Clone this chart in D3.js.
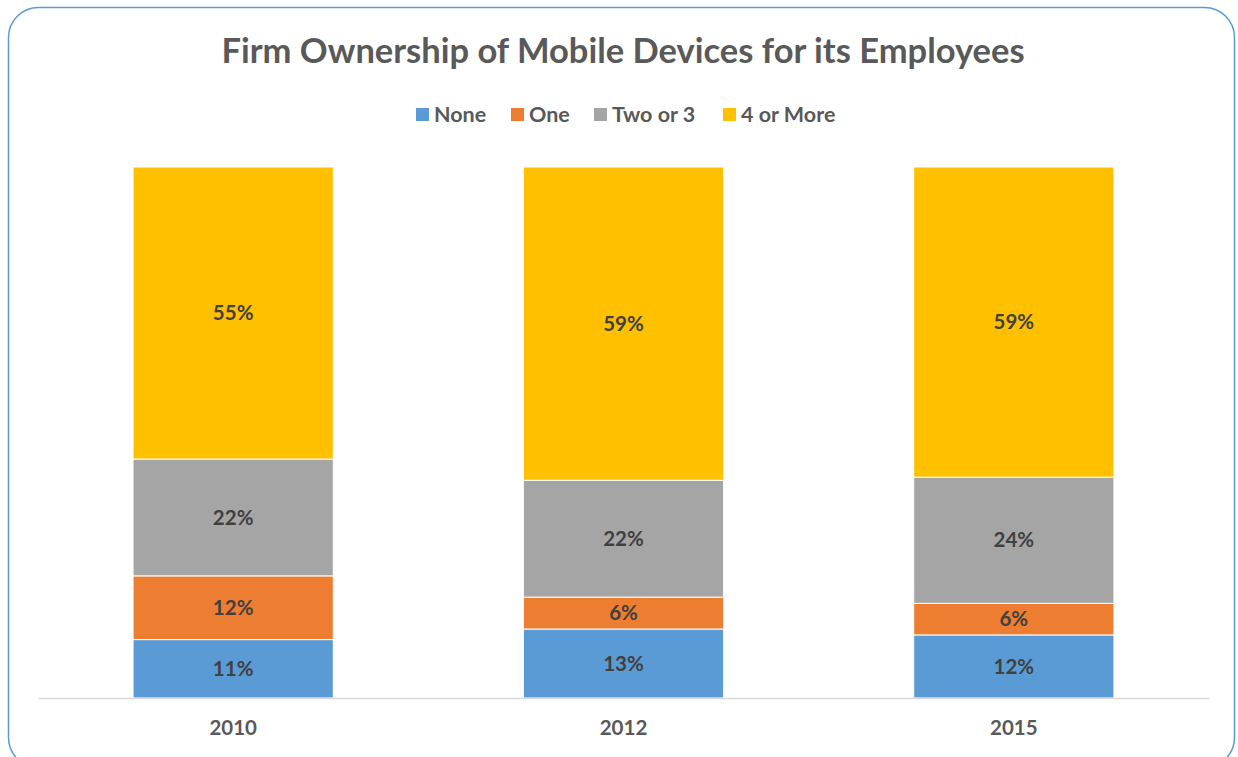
<!DOCTYPE html>
<html>
<head>
<meta charset="utf-8">
<script src="https://cdn.jsdelivr.net/npm/d3@7/dist/d3.min.js"></script>
<style>
  html, body { margin: 0; padding: 0; background: #fff; }
  svg { display: block; }
  text { font-family: Lato, "Open Sans", sans-serif; font-weight: bold; }
</style>
</head>
<body>
<svg id="chart" width="1238" height="757"></svg>
<script>
// Survey years on the category axis
const years = ["2010", "2012", "2015"];
// Share of firms (%) by number of mobile devices owned for employees
const seriesNames = ["None", "One", "Two or 3", "4 or More"];
const none = [11, 13, 12];
const one = [12, 6, 6];
const twoOr3 = [22, 22, 24];
const fourOrMore = [55, 59, 59];
const colors = ["#5B9BD5", "#ED7D31", "#A5A5A5", "#FFC000"];

const rows = years.map((y, i) => ({
  year: y,
  "None": none[i],
  "One": one[i],
  "Two or 3": twoOr3[i],
  "4 or More": fourOrMore[i]
}));

const svg = d3.select("#chart");

// Chart frame with rounded corners
svg.append("rect")
  .attr("x", 8.5).attr("y", 7.5)
  .attr("width", 1226).attr("height", 760)
  .attr("rx", 30).attr("ry", 30)
  .attr("fill", "#fff")
  .attr("stroke", "#5B9BD5").attr("stroke-width", 1.5);

// Title
svg.append("text")
  .attr("x", 623).attr("y", 63)
  .attr("text-anchor", "middle")
  .attr("fill", "#595959")
  .style("font-size", "34.5px")
  .text("Firm Ownership of Mobile Devices for its Employees");

// Plot area
const plot = { left: 38, right: 1209, top: 167, bottom: 698 };

const x = d3.scaleBand()
  .domain(years)
  .range([plot.left, plot.right])
  .paddingInner(0.487)
  .paddingOuter(0.2435);

const y = d3.scaleLinear()
  .domain([0, 1])
  .range([plot.bottom, plot.top]);

const stack = d3.stack()
  .keys(seriesNames)
  .offset(d3.stackOffsetExpand);
const layers = stack(rows);

const color = d3.scaleOrdinal().domain(seriesNames).range(colors);

const g = svg.append("g");

layers.forEach(layer => {
  const lg = g.append("g");
  lg.selectAll("rect")
    .data(layer)
    .join("rect")
    .attr("x", d => x(d.data.year))
    .attr("width", x.bandwidth())
    .attr("y", d => y(d[1]))
    .attr("height", d => y(d[0]) - y(d[1]))
    .attr("fill", color(layer.key))
    .attr("stroke", "#fff")
    .attr("stroke-width", 1);

  lg.selectAll("text")
    .data(layer)
    .join("text")
    .attr("x", d => x(d.data.year) + x.bandwidth() / 2)
    .attr("y", d => (y(d[0]) + y(d[1])) / 2)
    .attr("dy", "0.35em")
    .attr("text-anchor", "middle")
    .attr("fill", "#404040")
    .style("font-size", "20.5px")
    .text(d => d.data[layer.key] + "%");
});

// Category axis
const xAxis = d3.axisBottom(x).tickSize(0).tickPadding(22);
const ax = svg.append("g")
  .attr("transform", `translate(0,${plot.bottom})`)
  .call(xAxis);
ax.select(".domain").attr("stroke", "#D9D9D9").attr("stroke-width", 1.5);
ax.selectAll("text")
  .attr("fill", "#595959")
  .style("font-size", "20.5px")
  .style("font-family", "Lato, 'Open Sans', sans-serif")
  .style("font-weight", "bold");

// Legend
const legendX = [416, 511, 594, 723];
const legend = svg.append("g");
seriesNames.forEach((name, i) => {
  legend.append("rect")
    .attr("x", legendX[i]).attr("y", 108)
    .attr("width", 13).attr("height", 13)
    .attr("fill", colors[i]);
  legend.append("text")
    .attr("x", legendX[i] + 18).attr("y", 122)
    .attr("fill", "#595959")
    .style("font-size", "21.5px")
    .text(name);
});
</script>
</body>
</html>
